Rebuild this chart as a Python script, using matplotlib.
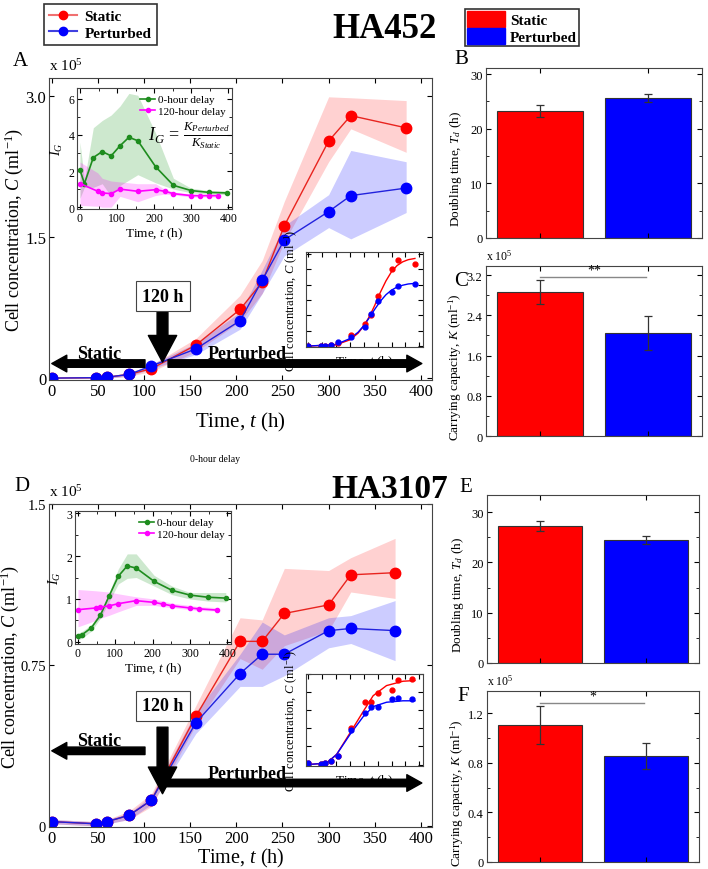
import numpy as np
import matplotlib
matplotlib.use("Agg")
import matplotlib.pyplot as plt
from matplotlib.lines import Line2D
from matplotlib.patches import Patch
from matplotlib.ticker import MultipleLocator, NullFormatter

plt.rcParams['font.family'] = 'Liberation Serif'
plt.rcParams['mathtext.fontset'] = 'custom'
plt.rcParams['mathtext.rm'] = 'Liberation Serif'
plt.rcParams['mathtext.it'] = 'Liberation Serif:italic'
plt.rcParams['mathtext.bf'] = 'Liberation Serif:bold'
plt.rcParams['xtick.direction'] = 'in'
plt.rcParams['ytick.direction'] = 'in'
plt.rcParams['axes.edgecolor'] = '#444444'
plt.rcParams['axes.linewidth'] = 0.8

# ---- HA452 growth (x 1e5 cells/ml) ----
t_a = [0, 48, 60, 84, 108, 156, 204, 228, 252, 300, 324, 384]
static_a = [0, 0.005, 0.01, 0.04, 0.10, 0.35, 0.73, 1.02, 1.62, 2.52, 2.79, 2.66]
static_a_lo = [0, 0, 0, 0.02, 0.07, 0.28, 0.60, 0.90, 1.45, 2.30, 2.65, 2.40]
static_a_hi = [0, 0.01, 0.02, 0.06, 0.14, 0.42, 0.88, 1.25, 1.88, 2.99, 2.98, 2.95]
pert_a = [0, 0.005, 0.01, 0.04, 0.13, 0.31, 0.61, 1.04, 1.47, 1.77, 1.94, 2.02]
pert_a_lo = [0, 0, 0, 0.02, 0.10, 0.25, 0.52, 0.90, 1.30, 1.60, 1.48, 1.76]
pert_a_hi = [0, 0.01, 0.02, 0.05, 0.15, 0.37, 0.70, 1.15, 1.62, 1.95, 2.42, 2.30]

# growth index inset HA452
ig_t0_a = [0, 12, 36, 60, 84, 108, 132, 156, 204, 252, 300, 348, 396]
ig0_a = [2.06, 1.31, 2.75, 3.08, 2.84, 3.40, 3.87, 3.68, 2.24, 1.21, 0.92, 0.82, 0.79]
ig0_a_lo = [0.5, 1.1, 1.1, 1.3, 0.6, 1.2, 1.5, 1.8, 1.35, 1.0, 0.8, 0.72, 0.70]
ig0_a_hi = [3.6, 1.5, 4.4, 4.8, 5.1, 5.6, 6.3, 6.2, 4.1, 1.6, 1.05, 0.92, 0.90]
ig_t120_a = [0, 48, 60, 84, 108, 156, 204, 228, 252, 300, 324, 348, 372]
ig120_a = [1.31, 0.88, 0.79, 0.75, 1.0, 0.88, 0.97, 0.88, 0.75, 0.64, 0.64, 0.64, 0.64]
ig120_a_lo = [0.1, 0.05, 0.0, 0.0, 0.6, 0.3, 0.65, 0.72, 0.68, 0.56, 0.56, 0.56, 0.56]
ig120_a_hi = [2.5, 1.9, 1.6, 1.45, 1.4, 1.3, 1.3, 1.0, 0.85, 0.72, 0.70, 0.70, 0.70]

fit_t_a = [0, 100, 150, 180, 200, 220, 240, 260, 280, 300, 320, 340, 360, 384]
fit_static_a = [0, 0.04, 0.20, 0.42, 0.65, 0.95, 1.33, 1.75, 2.12, 2.42, 2.62, 2.74, 2.81, 2.85]
fit_pert_a = [0, 0.05, 0.24, 0.45, 0.66, 0.92, 1.20, 1.46, 1.67, 1.82, 1.92, 1.98, 2.02, 2.04]

# ---- HA3107 growth ----
t_d = [0, 48, 60, 84, 108, 156, 204, 228, 252, 300, 324, 372]
static_d = [0.02, 0.01, 0.02, 0.05, 0.12, 0.51, 0.86, 0.86, 0.99, 1.03, 1.17, 1.18]
static_d_lo = [0.01, 0, 0.01, 0.03, 0.09, 0.47, 0.78, 0.73, 0.84, 0.91, 1.09, 1.06]
static_d_hi = [0.03, 0.02, 0.03, 0.07, 0.15, 0.56, 0.97, 0.96, 1.20, 1.19, 1.25, 1.34]
pert_d = [0.02, 0.01, 0.02, 0.05, 0.12, 0.48, 0.71, 0.80, 0.80, 0.91, 0.92, 0.91]
pert_d_lo = [0.01, 0, 0.01, 0.03, 0.10, 0.43, 0.65, 0.65, 0.70, 0.83, 0.85, 0.77]
pert_d_hi = [0.03, 0.02, 0.03, 0.06, 0.14, 0.53, 0.80, 0.95, 0.89, 0.97, 0.98, 1.05]

ig_t0_d = [0, 10, 36, 60, 84, 108, 132, 156, 204, 252, 300, 348, 396]
ig0_d = [0.125, 0.16, 0.33, 0.62, 1.08, 1.53, 1.77, 1.72, 1.41, 1.20, 1.09, 1.04, 1.02]
ig0_d_lo = [0.05, 0.08, 0.25, 0.55, 0.95, 1.35, 1.48, 1.50, 1.30, 1.10, 1.00, 0.95, 0.93]
ig0_d_hi = [0.2, 0.24, 0.40, 0.70, 1.15, 1.70, 2.05, 2.05, 1.55, 1.30, 1.15, 1.15, 1.15]
ig_t120_d = [0, 48, 60, 84, 108, 156, 204, 228, 252, 300, 324, 372]
ig120_d = [0.75, 0.79, 0.81, 0.84, 0.89, 0.96, 0.92, 0.88, 0.84, 0.79, 0.77, 0.74]
ig120_d_lo = [0.35, 0.50, 0.55, 0.62, 0.70, 0.85, 0.85, 0.82, 0.80, 0.75, 0.73, 0.72]
ig120_d_hi = [1.22, 1.19, 1.18, 1.16, 1.12, 1.05, 1.00, 0.95, 0.90, 0.85, 0.82, 0.80]

fit_t_d = [0, 67, 103, 150, 198, 234, 282, 341, 384]
fit_static_d = [0, 0.02, 0.14, 0.43, 0.73, 0.95, 1.09, 1.15, 1.16]
fit_pert_d = [0, 0.02, 0.14, 0.41, 0.66, 0.80, 0.86, 0.88, 0.88]

# ---- bar panels ----
groups = ['Static', 'Perturbed']
bar_colors = ['#ff0000', '#0000ff']
td_a = [23.3, 25.6]
td_a_err = [1.1, 0.8]
k_a = [2.86, 2.05]
k_a_err = [0.24, 0.34]
td_d = [27.3, 24.5]
td_d_err = [1.0, 0.8]
k_d = [1.105, 0.855]
k_d_err = [0.15, 0.105]

W, H = 708, 870
fig = plt.figure(figsize=(W / 100, H / 100), dpi=100)


def box(l, t, r, b):
    return [l / W, 1 - b / H, (r - l) / W, (b - t) / H]


def ticks_all(ax):
    ax.tick_params(top=True, right=True, which='both')


def growth(ax, t, s, slo, shi, p, plo, phi, xpad, xfs, ylx):
    ax.fill_between(t, slo, shi, color='#ff0000', alpha=0.18, lw=0)
    ax.fill_between(t, plo, phi, color='#0000ff', alpha=0.2, lw=0)
    ax.plot(t, s, '-o', color='#e8241f', mfc='#ff0000', mec='#ff0000', ms=7.5, lw=1)
    ax.plot(t, p, '-o', color='#2222dd', mfc='#0000ff', mec='#0000ff', ms=7.5, lw=1)
    ax.set_xlim(-3, 412)
    ax.xaxis.set_major_locator(MultipleLocator(50))
    ax.set_xlabel('Time, $t$ (h)', fontsize=xfs, labelpad=xpad)
    ax.set_ylabel('Cell concentration, $C$ (ml$^{-1}$)', fontsize=13)
    ax.yaxis.set_label_coords(ylx, 0.5)
    ax.tick_params(labelsize=12)
    ax.tick_params(axis='both', pad=2)
    ticks_all(ax)
    ax.text(0.0, 1.015, 'x 10$^5$', transform=ax.transAxes, fontsize=11, va='bottom')


def arrows(ax, ytop, ytip, box_y, ys, yp, xp0, off):
    ax.annotate('', xy=(120, ytip), xytext=(120, ytop),
                arrowprops=dict(arrowstyle='simple,head_length=1.6,head_width=1.7,tail_width=0.65',
                                color='k', mutation_scale=12, shrinkA=0, shrinkB=0))
    ax.text(120, box_y, '120 h', fontsize=13, fontweight='bold', ha='center', va='center',
            bbox=dict(boxstyle='square,pad=0.35', fc='white', ec='#444444', lw=0.8))
    style = 'simple,head_length=0.9,head_width=1.0,tail_width=0.45'
    ax.annotate('', xy=(0, ys), xytext=(101, ys),
                arrowprops=dict(arrowstyle=style, color='k', mutation_scale=12, shrinkA=0, shrinkB=0))
    ax.annotate('', xy=(401, yp), xytext=(xp0, yp),
                arrowprops=dict(arrowstyle=style, color='k', mutation_scale=12, shrinkA=0, shrinkB=0))
    ax.text(51, ys + off, 'Static', fontsize=13, fontweight='bold', ha='center', va='baseline')
    ax.text(212, yp + off, 'Perturbed', fontsize=13, fontweight='bold', ha='center', va='baseline')


def ig_inset(ax, t0, g, glo, ghi, t1, m, mlo, mhi):
    ax.fill_between(t0, glo, ghi, color='#4caf50', alpha=0.28, lw=0)
    ax.fill_between(t1, mlo, mhi, color='#ff00ff', alpha=0.22, lw=0)
    ax.plot(t0, g, '-o', color='#1e8c1e', ms=3, lw=1.2, label='0-hour delay')
    ax.plot(t1, m, '-o', color='#ff00ff', ms=3, lw=1.2, label='120-hour delay')
    ax.set_xlim(-8, 410)
    ax.xaxis.set_major_locator(MultipleLocator(100))
    ax.xaxis.set_minor_locator(MultipleLocator(50))
    ax.set_xlabel('Time, $t$ (h)', fontsize=9.5, labelpad=1)
    ax.set_ylabel('$I_G$', fontsize=10, labelpad=2)
    ax.tick_params(labelsize=8.5, pad=2)
    ticks_all(ax)
    ax.legend(loc='upper right', fontsize=8, frameon=False, handlelength=1.4,
              handletextpad=0.2, borderaxespad=0.2, labelspacing=0.15)


def fit_inset(ax, t, s, p, ft, fs, fp):
    ax.plot(ft, fs, color='#ff0000', lw=1)
    ax.plot(ft, fp, color='#0000ff', lw=1)
    ax.plot(t, s, 'o', color='#ff0000', ms=3.5)
    ax.plot(t, p, 'o', color='#0000ff', ms=3.5)
    ax.set_xlim(-7, 413)
    ax.xaxis.set_major_locator(MultipleLocator(50))
    ax.xaxis.set_major_formatter(NullFormatter())
    ax.yaxis.set_major_formatter(NullFormatter())
    ax.set_xlabel('Time, $t$ (h)', fontsize=9.5, labelpad=1)
    ax.set_ylabel('Cell concentration, $C$ (ml$^{-1}$)', fontsize=9, labelpad=1)
    ticks_all(ax)


def bars(ax, vals, errs, ylim, yticks, ylabel, minor):
    ax.bar([1, 2], vals, width=0.8, color=bar_colors, edgecolor='#333333', lw=0.8)
    ax.errorbar([1, 2], vals, yerr=errs, fmt='none', ecolor='#333333', elinewidth=0.9,
                capsize=3, capthick=0.9)
    ax.set_xlim(0.5, 2.5)
    ax.set_ylim(*ylim)
    ax.set_xticks([1, 2])
    ax.set_xticklabels([])
    ax.set_yticks(yticks)
    ax.yaxis.set_minor_locator(MultipleLocator(minor))
    ax.set_ylabel(ylabel, fontsize=9.5)
    ax.yaxis.set_label_coords(-0.1, 0.41)
    ax.tick_params(labelsize=9, pad=2.5)
    ticks_all(ax)


# ---------------- Panel A ----------------
axA = fig.add_axes(box(49, 79, 432, 381))
growth(axA, t_a, static_a, static_a_lo, static_a_hi, pert_a, pert_a_lo, pert_a_hi, 8, 15, -0.063)
axA.set_ylim(-0.02, 3.19)
axA.set_yticks([0, 1.5, 3.0])
axA.set_yticklabels(['0', '1.5', '3.0'])
arrows(axA, 0.77, 0.17, 0.87, 0.155, 0.155, 126, 0.06)

insA = fig.add_axes(box(77, 89, 232, 210))
ig_inset(insA, ig_t0_a, ig0_a, ig0_a_lo, ig0_a_hi, ig_t120_a, ig120_a, ig120_a_lo, ig120_a_hi)
insA.set_ylim(-0.1, 6.6)
insA.yaxis.set_major_locator(MultipleLocator(2))
insA.yaxis.set_minor_locator(MultipleLocator(1))
insA.text(0.985, 0.62, r'$I_G\,=\,\frac{K_{Perturbed}}{K_{Static}}$', transform=insA.transAxes,
          fontsize=13, ha='right', va='center')

fitA = fig.add_axes(box(306, 253, 423, 348))
fit_inset(fitA, t_a, static_a, pert_a, fit_t_a, fit_static_a, fit_pert_a)
fitA.set_ylim(-0.03, 3.06)
fitA.yaxis.set_major_locator(MultipleLocator(0.5))

# ---------------- Panel B / C ----------------
axB = fig.add_axes(box(486, 69, 702, 239))
bars(axB, td_a, td_a_err, (0, 31.1), [0, 10, 20, 30], 'Doubling time, $T_d$ (h)', 5)

axC = fig.add_axes(box(486, 267, 702, 437))
bars(axC, k_a, k_a_err, (0, 3.38), [0, 0.8, 1.6, 2.4, 3.2],
     'Carrying capacity, $K$ (ml$^{-1}$)', 0.4)
axC.set_yticklabels(['0', '0.8', '1.6', '2.4', '3.2'])
axC.plot([1, 1.98], [3.16, 3.16], color='#888888', lw=1)
axC.text(1.5, 3.18, '**', ha='center', va='bottom', fontsize=10)
axC.text(0.0, 1.02, 'x 10$^5$', transform=axC.transAxes, fontsize=8.5, va='bottom')

# ---------------- Panel D ----------------
axD = fig.add_axes(box(49, 505, 432, 828))
growth(axD, t_d, static_d, static_d_lo, static_d_hi, pert_d, pert_d_lo, pert_d_hi, 0, 14.5, -0.072)
axD.set_ylim(-0.005, 1.5)
axD.set_yticks([0, 0.75, 1.5])
axD.set_yticklabels(['0', '0.75', '1.5'])
axD.tick_params(axis='y', labelsize=10.5)
arrows(axD, 0.46, 0.15, 0.56, 0.35, 0.20, 119, 0.025)

insD = fig.add_axes(box(75, 512, 231, 645))
ig_inset(insD, ig_t0_d, ig0_d, ig0_d_lo, ig0_d_hi, ig_t120_d, ig120_d, ig120_d_lo, ig120_d_hi)
insD.set_ylim(-0.05, 3.05)
insD.yaxis.set_major_locator(MultipleLocator(1))
insD.yaxis.set_minor_locator(MultipleLocator(0.5))

fitD = fig.add_axes(box(306, 675, 423, 767))
fit_inset(fitD, t_d, static_d, pert_d, fit_t_d, fit_static_d, fit_pert_d)
fitD.set_ylim(-0.02, 1.25)
fitD.yaxis.set_major_locator(MultipleLocator(0.25))

# ---------------- Panel E / F ----------------
axE = fig.add_axes(box(487, 496, 699, 664))
bars(axE, td_d, td_d_err, (0, 33.4), [0, 10, 20, 30], 'Doubling time, $T_d$ (h)', 5)

axF = fig.add_axes(box(487, 692, 699, 863))
bars(axF, k_d, k_d_err, (0, 1.38), [0, 0.4, 0.8, 1.2],
     'Carrying capacity, $K$ (ml$^{-1}$)', 0.2)
axF.set_yticklabels(['0', '0.4', '0.8', '1.2'])
axF.plot([1, 1.98], [1.28, 1.28], color='#888888', lw=1)
axF.text(1.5, 1.29, '*', ha='center', va='bottom', fontsize=10)
axF.text(0.0, 1.02, 'x 10$^5$', transform=axF.transAxes, fontsize=8.5, va='bottom')

# ---------------- figure texts ----------------
fig.text(385 / W, 1 - 30 / H, 'HA452', fontsize=25, fontweight='bold', ha='center', va='center')
fig.text(390 / W, 1 - 490 / H, 'HA3107', fontsize=24, fontweight='bold', ha='center', va='center')
for lab, x, y in [('A', 20, 62), ('B', 461, 59), ('C', 461, 282),
                  ('D', 22, 487), ('E', 466, 488), ('F', 463, 697)]:
    fig.text(x / W, 1 - y / H, lab, fontsize=15, ha='center', va='center')
fig.text(215 / W, 1 - 460 / H, '0-hour delay', fontsize=7, ha='center', va='center')

line_handles = [Line2D([], [], color='#f07070', marker='o', mfc='#ff0000', mec='#ff0000', ms=6),
                Line2D([], [], color='#4040e0', marker='o', mfc='#0000ff', mec='#0000ff', ms=6)]
leg1 = fig.legend(line_handles, groups, loc='upper left', bbox_to_anchor=(44 / W, 1 - 5 / H),
                  fancybox=False, edgecolor='k', prop=dict(weight='bold', size=11),
                  handlelength=1.8, borderaxespad=0, labelspacing=0.2, borderpad=0.35,
                  handletextpad=0.5)
leg1.get_frame().set_linewidth(1.2)
patch_handles = [Patch(color=c) for c in bar_colors]
leg2 = fig.legend(patch_handles, groups, loc='upper left', bbox_to_anchor=(465 / W, 1 - 10 / H),
                  fancybox=False, edgecolor='k', prop=dict(weight='bold', size=11),
                  handlelength=2.5, handleheight=1.2, borderaxespad=0, labelspacing=0.05,
                  borderpad=0.15, handletextpad=0.3)
leg2.get_frame().set_linewidth(1.2)

fig.savefig('out.png', dpi=100)
